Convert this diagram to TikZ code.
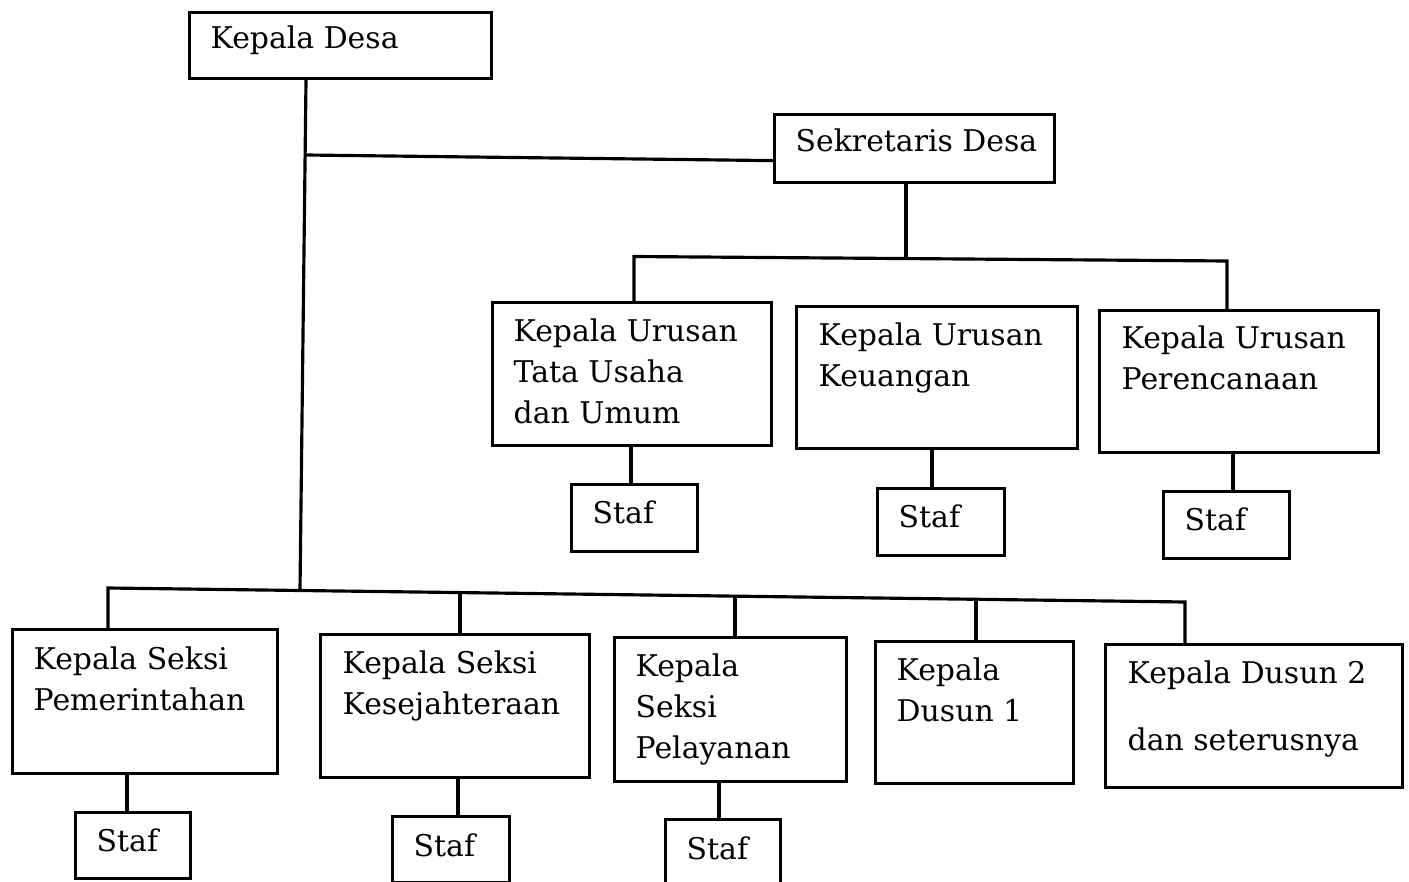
\documentclass[tikz,border=0pt]{standalone}
\usepackage{fontspec}
\setmainfont{DejaVu Serif}
\newcommand{\baris}[1]{\begin{tabular}[t]{@{}l@{}}#1\end{tabular}}

\begin{document}
\begin{tikzpicture}[x=0.01cm,y=-0.01cm,
  kotak/.style={draw,line width=0.9pt,anchor=north west,inner sep=0pt},
  isi/.style={anchor=base west,inner sep=0pt,font=\fontsize{8.5}{11.7}\selectfont}]
\def\lw{0.9pt}
\useasboundingbox (0,0) rectangle (1409,882);
\clip (0,0) rectangle (1409,882);
% kotak
\path
(188,11) node [kotak,minimum width=3.02cm,minimum height=0.66cm] (kd) {}
(773,113) node [kotak,minimum width=2.80cm,minimum height=0.68cm] (sd) {}
(491,301) node [kotak,minimum width=2.79cm,minimum height=1.43cm] (kuTU) {}
(795,305) node [kotak,minimum width=2.81cm,minimum height=1.42cm] (kuKeu) {}
(1098,309) node [kotak,minimum width=2.79cm,minimum height=1.42cm] (kuPer) {}
(570,483) node [kotak,minimum width=1.26cm,minimum height=0.67cm] (stTU) {}
(876,487) node [kotak,minimum width=1.27cm,minimum height=0.67cm] (stKeu) {}
(1162,490) node [kotak,minimum width=1.26cm,minimum height=0.67cm] (stPer) {}
(11,628) node [kotak,minimum width=2.65cm,minimum height=1.44cm] (ksPem) {}
(319,633) node [kotak,minimum width=2.69cm,minimum height=1.43cm] (ksKes) {}
(613,636) node [kotak,minimum width=2.32cm,minimum height=1.44cm] (ksPel) {}
(874,640) node [kotak,minimum width=1.98cm,minimum height=1.42cm] (kdsA) {}
(1104,643) node [kotak,minimum width=2.97cm,minimum height=1.43cm] (kdsB) {}
(74,811) node [kotak,minimum width=1.15cm,minimum height=0.66cm] (stPem) {}
(391,815) node [kotak,minimum width=1.17cm,minimum height=0.66cm] (stKes) {}
(664,818) node [kotak,minimum width=1.15cm,minimum height=0.66cm] (stPel) {}
;
% tulisan
\path
(210,49) node [isi] (tKd) {Kepala Desa}
(795,152) node [isi] (tSd) {Sekretaris Desa}
(513,341) node [isi] (tTU) {\baris{Kepala Urusan\\Tata Usaha\\dan Umum}}
(818,345) node [isi] (tKeu) {\baris{Kepala Urusan\\Keuangan}}
(1121,348) node [isi] (tPer) {\baris{Kepala Urusan\\Perencanaan}}
(592,523) node [isi] (tsTU) {Staf}
(898,527) node [isi] (tsKeu) {Staf}
(1184,530) node [isi] (tsPer) {Staf}
(33,669) node [isi] (tPem) {\baris{Kepala Seksi\\Pemerintahan}}
(342,673) node [isi] (tKes) {\baris{Kepala Seksi\\Kesejahteraan}}
(635,676) node [isi] (tPel) {\baris{Kepala\\Seksi\\Pelayanan}}
(896,680) node [isi] (tDsA) {\baris{Kepala\\Dusun 1}}
(1127,683) node [isi] (tDsB) {\baris{Kepala Dusun 2\\[0.26cm]dan seterusnya}}
(96,851) node [isi] (tsPem) {Staf}
(413,856) node [isi] (tsKes) {Staf}
(686,859) node [isi] (tsPel) {Staf}
;
% titik cabang
\coordinate (jTop) at (306,155);
\coordinate (jBus) at (300,590.5);
\coordinate (bA) at (634,256.5);
\coordinate (bS) at (906,259);
\coordinate (bB) at (1227,261);
\coordinate (dPem) at (108,588);
\coordinate (dKes) at (460,592.6);
\coordinate (dPel) at (735,596.1);
\coordinate (dDsA) at (976,599.3);
\coordinate (dDsB) at (1185,602);

\begin{scope}[every path/.style={draw,line width=\lw}]
\path (kd.south -| jTop) -- (jBus);
\path (jTop) -- ([yshift=-0.12cm]sd.west);
\path (sd.south -| bS) -- (bS);
\path (kuTU.north -| bA) -- (bA) -- (bB) -- (kuPer.north -| bB);
\path (kuTU.south -| 631,0) -- (stTU.north -| 631,0);
\path (kuKeu.south -| 932,0) -- (stKeu.north -| 932,0);
\path (kuPer.south -| 1233,0) -- (stPer.north -| 1233,0);
\path (ksPem.north -| dPem) -- (dPem) -- (dDsB) -- (kdsB.north -| dDsB);
\path (dKes) -- (ksKes.north -| dKes);
\path (dPel) -- (ksPel.north -| dPel);
\path (dDsA) -- (kdsA.north -| dDsA);
\path (ksPem.south -| 127,0) -- (stPem.north -| 127,0);
\path (ksKes.south -| 458,0) -- (stKes.north -| 458,0);
\path (ksPel.south -| 719,0) -- (stPel.north -| 719,0);
\end{scope}
\end{tikzpicture}
\end{document}
